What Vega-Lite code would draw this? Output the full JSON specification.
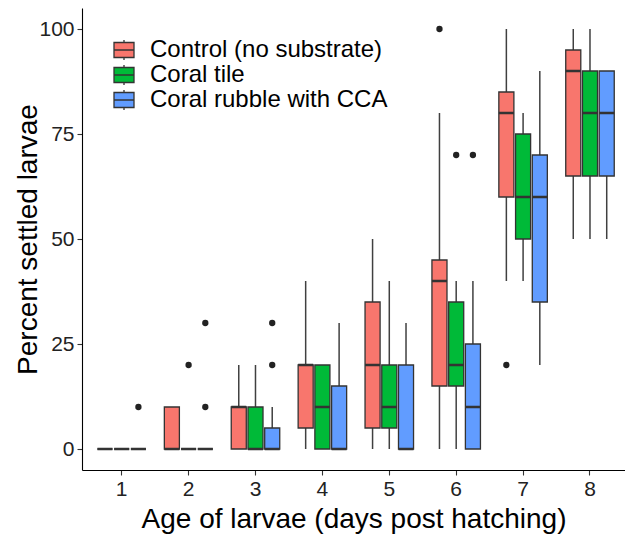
{
  "$schema": "https://vega.github.io/schema/vega-lite/v6.json",
  "width": 543,
  "height": 462,
  "autosize": {"type": "none"},
  "padding": {"left": 82, "top": 8, "right": 0, "bottom": 66},
  "background": "white",
  "config": {
    "view": {"stroke": null},
    "font": "Liberation Sans",
    "axis": {"grid": false, "domainColor": "black", "domainWidth": 1.1, "tickColor": "#333333", "tickWidth": 1.1, "tickSize": 5, "labelColor": "#222222", "labelFont": "Liberation Sans", "titleFont": "Liberation Sans", "titleFontWeight": "normal", "titleColor": "black"}
  },
  "datasets": {
    "boxes": [
      {"day": "1", "group": "Control (no substrate)", "lower": 0, "q1": 0, "median": 0, "q3": 0, "upper": 0},
      {"day": "1", "group": "Coral tile", "lower": 0, "q1": 0, "median": 0, "q3": 0, "upper": 0},
      {"day": "1", "group": "Coral rubble with CCA", "lower": 0, "q1": 0, "median": 0, "q3": 0, "upper": 0},
      {"day": "2", "group": "Control (no substrate)", "lower": 0, "q1": 0, "median": 0, "q3": 10, "upper": 10},
      {"day": "2", "group": "Coral tile", "lower": 0, "q1": 0, "median": 0, "q3": 0, "upper": 0},
      {"day": "2", "group": "Coral rubble with CCA", "lower": 0, "q1": 0, "median": 0, "q3": 0, "upper": 0},
      {"day": "3", "group": "Control (no substrate)", "lower": 0, "q1": 0, "median": 10, "q3": 10, "upper": 20},
      {"day": "3", "group": "Coral tile", "lower": 0, "q1": 0, "median": 0, "q3": 10, "upper": 20},
      {"day": "3", "group": "Coral rubble with CCA", "lower": 0, "q1": 0, "median": 0, "q3": 5, "upper": 10},
      {"day": "4", "group": "Control (no substrate)", "lower": 0, "q1": 5, "median": 20, "q3": 20, "upper": 40},
      {"day": "4", "group": "Coral tile", "lower": 0, "q1": 0, "median": 10, "q3": 20, "upper": 20},
      {"day": "4", "group": "Coral rubble with CCA", "lower": 0, "q1": 0, "median": 0, "q3": 15, "upper": 30},
      {"day": "5", "group": "Control (no substrate)", "lower": 0, "q1": 5, "median": 20, "q3": 35, "upper": 50},
      {"day": "5", "group": "Coral tile", "lower": 0, "q1": 5, "median": 10, "q3": 20, "upper": 40},
      {"day": "5", "group": "Coral rubble with CCA", "lower": 0, "q1": 0, "median": 0, "q3": 20, "upper": 30},
      {"day": "6", "group": "Control (no substrate)", "lower": 0, "q1": 15, "median": 40, "q3": 45, "upper": 80},
      {"day": "6", "group": "Coral tile", "lower": 0, "q1": 15, "median": 20, "q3": 35, "upper": 40},
      {"day": "6", "group": "Coral rubble with CCA", "lower": 0, "q1": 0, "median": 10, "q3": 25, "upper": 40},
      {"day": "7", "group": "Control (no substrate)", "lower": 40, "q1": 60, "median": 80, "q3": 85, "upper": 100},
      {"day": "7", "group": "Coral tile", "lower": 40, "q1": 50, "median": 60, "q3": 75, "upper": 80},
      {"day": "7", "group": "Coral rubble with CCA", "lower": 20, "q1": 35, "median": 60, "q3": 70, "upper": 90},
      {"day": "8", "group": "Control (no substrate)", "lower": 50, "q1": 65, "median": 90, "q3": 95, "upper": 100},
      {"day": "8", "group": "Coral tile", "lower": 50, "q1": 65, "median": 80, "q3": 90, "upper": 100},
      {"day": "8", "group": "Coral rubble with CCA", "lower": 50, "q1": 65, "median": 80, "q3": 90, "upper": 90}
    ],
    "outliers": [
      {"day": "1", "group": "Coral rubble with CCA", "value": 10},
      {"day": "2", "group": "Coral tile", "value": 20},
      {"day": "2", "group": "Coral rubble with CCA", "value": 10},
      {"day": "2", "group": "Coral rubble with CCA", "value": 30},
      {"day": "3", "group": "Coral rubble with CCA", "value": 20},
      {"day": "3", "group": "Coral rubble with CCA", "value": 30},
      {"day": "6", "group": "Control (no substrate)", "value": 100},
      {"day": "6", "group": "Coral tile", "value": 70},
      {"day": "6", "group": "Coral rubble with CCA", "value": 70},
      {"day": "7", "group": "Control (no substrate)", "value": 20}
    ]
  },
  "encoding": {
    "x": {
      "field": "day", "type": "nominal",
      "scale": {"paddingInner": 0, "paddingOuter": 0.0583, "align": 0.8},
      "axis": {"title": "Age of larvae (days post hatching)", "labelAngle": 0, "labelFontSize": 21, "titleFontSize": 28, "labelPadding": 3, "titlePadding": 6}
    },
    "xOffset": {
      "field": "group", "type": "nominal",
      "sort": ["Control (no substrate)", "Coral tile", "Coral rubble with CCA"],
      "scale": {"paddingInner": 0.1, "paddingOuter": 0.55}
    }
  },
  "layer": [
    {
      "data": {"name": "boxes"},
      "mark": {"type": "rule", "color": "#404040", "strokeWidth": 1.5},
      "encoding": {
        "y": {"field": "lower", "type": "quantitative", "scale": {"domain": [-5, 105], "nice": false, "zero": false},
          "axis": {"title": "Percent settled larvae", "values": [0, 25, 50, 75, 100], "labelFontSize": 21, "titleFontSize": 28, "labelPadding": 3, "titleX": -40}},
        "y2": {"field": "upper"}
      }
    },
    {
      "data": {"name": "boxes"},
      "mark": {"type": "bar", "stroke": "#333333", "strokeWidth": 1.3},
      "encoding": {
        "y": {"field": "q1", "type": "quantitative"},
        "y2": {"field": "q3"},
        "color": {
          "field": "group", "type": "nominal",
          "sort": ["Control (no substrate)", "Coral tile", "Coral rubble with CCA"],
          "scale": {"domain": ["Control (no substrate)", "Coral tile", "Coral rubble with CCA"], "range": ["#F8766D", "#00BA38", "#619CFF"]},
          "legend": {
            "title": null, "orient": "none", "legendX": 30, "legendY": 30,
            "symbolType": "M-1,-0.75H1V0.75H-1Z M-1,0H1 M0,-0.75V-1 M0,0.75V1",
            "symbolSize": 400, "symbolStrokeColor": "#333333", "symbolStrokeWidth": 1.3, "symbolOpacity": 1,
            "labelFontSize": 24, "labelColor": "black", "labelOffset": 14, "labelLimit": 0, "rowPadding": -1, "labelFont": "Liberation Sans"
          }
        }
      }
    },
    {
      "data": {"name": "boxes"},
      "mark": {"type": "bar", "stroke": "#333333", "strokeWidth": 2.7, "fillOpacity": 0},
      "encoding": {
        "y": {"field": "median", "type": "quantitative"},
        "y2": {"field": "median"}
      }
    },
    {
      "data": {"name": "outliers"},
      "mark": {"type": "point", "filled": true, "color": "#222222", "size": 40, "opacity": 1},
      "encoding": {
        "y": {"field": "value", "type": "quantitative"}
      }
    }
  ]
}
